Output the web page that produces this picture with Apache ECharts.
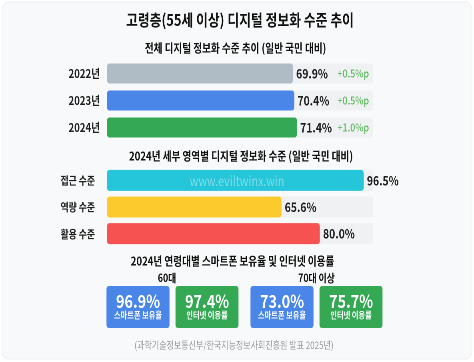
<!DOCTYPE html>
<html>
<head>
<meta charset="utf-8">
<script src="https://cdn.jsdelivr.net/npm/echarts@6/dist/echarts.min.js"></script>
<style>
  html, body { margin: 0; padding: 0; background: #ffffff; overflow: hidden; }
  /* the source picture is squeezed horizontally, so draw wider and scale back */
  #chart { width: 592.5px; height: 362px; transform: scaleX(0.8); transform-origin: 0 0; }
</style>
</head>
<body>
<div id="chart"></div>
<script>
const yearCats = ["2022년", "2023년", "2024년"];
const yearValues = [69.9, 70.4, 71.4];
const yearChanges = ["+0.5%p", "+0.5%p", "+1.0%p"];
const yearColors = ["#b0bcc5", "#4a86e8", "#34a853"];

const areaCats = ["접근 수준", "역량 수준", "활용 수준"];
const areaValues = [96.5, 65.6, 80.0];
const areaColors = ["#26c6da", "#fdca2e", "#f75252"];

const ageGroups = ["60대", "70대 이상"];
const boxValues = [96.9, 97.4, 73.0, 75.7];
const boxLabels = ["스마트폰 보유율", "인터넷 이용률", "스마트폰 보유율", "인터넷 이용률"];
const boxColors = ["#4a86e8", "#34a853", "#4a86e8", "#34a853"];

const font = "'Noto Sans CJK KR', 'Noto Sans', sans-serif";
const SX = 0.8;
const X = (x) => x / SX;

const chart = echarts.init(document.getElementById("chart"), null, { devicePixelRatio: 2 });

const txt = (text, x, y, size, weight, fill) => ({
  type: "text",
  x: X(x),
  y: y,
  z: 10,
  style: {
    text: text,
    fontFamily: font,
    fontSize: size,
    fontWeight: weight,
    fill: fill,
    align: "center",
    verticalAlign: "middle",
  },
});

const barSeries = (axisIdx, values, colors, width) => ({
  type: "bar",
  xAxisIndex: axisIdx,
  yAxisIndex: axisIdx,
  barWidth: width,
  showBackground: true,
  backgroundStyle: { color: "#f0f1f3", borderRadius: 3 },
  data: values.map((v, i) => ({ value: v, itemStyle: { color: colors[i] } })),
  itemStyle: { borderRadius: 3 },
  label: {
    show: true,
    position: "right",
    distance: 4,
    formatter: (p) => p.value.toFixed(1) + "%",
    fontFamily: font,
    fontSize: 13,
    fontWeight: "bold",
    color: "#1e1e1e",
  },
  silent: true,
});

const option = {
  backgroundColor: "#ffffff",
  animation: false,
  graphic: [
    {
      type: "rect",
      shape: { x: X(2), y: 2, width: X(470), height: 357, r: 8 },
      style: { fill: "#f8f9fa", stroke: "#eef0f2", lineWidth: 1 },
      z: -10,
    },
    txt("고령층(55세 이상) 디지털 정보화 수준 추이", 240, 20, 16, "bold", "#111"),
    txt("전체 디지털 정보화 수준 추이 (일반 국민 대비)", 235.5, 48, 12, "bold", "#111"),
    txt("2024년 세부 영역별 디지털 정보화 수준 (일반 국민 대비)", 241, 156, 12, "bold", "#111"),
    txt("2024년 연령대별 스마트폰 보유율 및 인터넷 이용률", 232.5, 261, 12, "bold", "#111"),
    txt(ageGroups[0], 167, 278, 11, "bold", "#111"),
    txt(ageGroups[1], 316.5, 278, 11, "bold", "#111"),
    txt("(과학기술정보통신부/한국지능정보사회진흥원 발표 2025년)", 234, 345, 10, "normal", "#9a9a9a"),
    txt("www.eviltwinx.win", 237, 181, 13.5, "normal", "rgba(255,255,255,0.4)"),
  ],
  grid: [
    { left: X(107), top: 60, width: X(266), height: 81 },
    { left: X(107), top: 167, width: X(266), height: 80 },
    { left: X(106), top: 286, width: X(276), height: 42 },
  ],
  xAxis: [
    { gridIndex: 0, type: "value", min: 0, max: 100, show: false },
    { gridIndex: 1, type: "value", min: 0, max: 100, show: false },
    { gridIndex: 2, type: "category", data: boxLabels, show: false },
  ],
  yAxis: [
    {
      gridIndex: 0,
      type: "category",
      inverse: true,
      data: yearCats,
      axisLine: { show: false },
      axisTick: { show: false },
      axisLabel: { margin: X(7), fontFamily: font, fontSize: 12, fontWeight: "bold", color: "#1e1e1e" },
    },
    {
      gridIndex: 1,
      type: "category",
      inverse: true,
      data: areaCats,
      axisLine: { show: false },
      axisTick: { show: false },
      axisLabel: { margin: X(12), fontFamily: font, fontSize: 11, fontWeight: "bold", color: "#1e1e1e" },
    },
    { gridIndex: 2, type: "value", min: 0, max: 1, show: false },
    {
      gridIndex: 0,
      type: "category",
      inverse: true,
      position: "right",
      z: 10,
      data: yearChanges,
      axisLine: { show: false },
      axisTick: { show: false },
      axisLabel: { inside: true, margin: X(4), fontFamily: font, fontSize: 11, fontWeight: 500, color: "#5cb85c" },
    },
  ],
  series: [
    barSeries(0, yearValues, yearColors, 20),
    barSeries(1, areaValues, areaColors, 21),
    {
      type: "custom",
      xAxisIndex: 2,
      yAxisIndex: 2,
      silent: true,
      data: boxValues.map((v, i) => [i, v]),
      renderItem: (params, api) => {
        const i = api.value(0);
        const cs = params.coordSys;
        const shift = X(i < 2 ? -2.5 : 3.5);
        const cx = api.coord([i, 0])[0] + shift;
        const w = X(63);
        return {
          type: "group",
          children: [
            {
              type: "rect",
              shape: { x: cx - w / 2, y: cs.y, width: w, height: cs.height, r: 3 },
              style: { fill: boxColors[i] },
            },
            {
              type: "text",
              style: {
                text: api.value(1).toFixed(1) + "%",
                x: cx,
                y: cs.y + 15,
                align: "center",
                verticalAlign: "middle",
                fontFamily: font,
                fontSize: 18,
                fontWeight: "bold",
                fill: "#ffffff",
              },
            },
            {
              type: "text",
              style: {
                text: boxLabels[i],
                x: cx,
                y: cs.y + 29,
                align: "center",
                verticalAlign: "middle",
                fontFamily: font,
                fontSize: 9,
                fontWeight: "bold",
                fill: "#ffffff",
              },
            },
          ],
        };
      },
    },
  ],
};

chart.setOption(option);
</script>
</body>
</html>
